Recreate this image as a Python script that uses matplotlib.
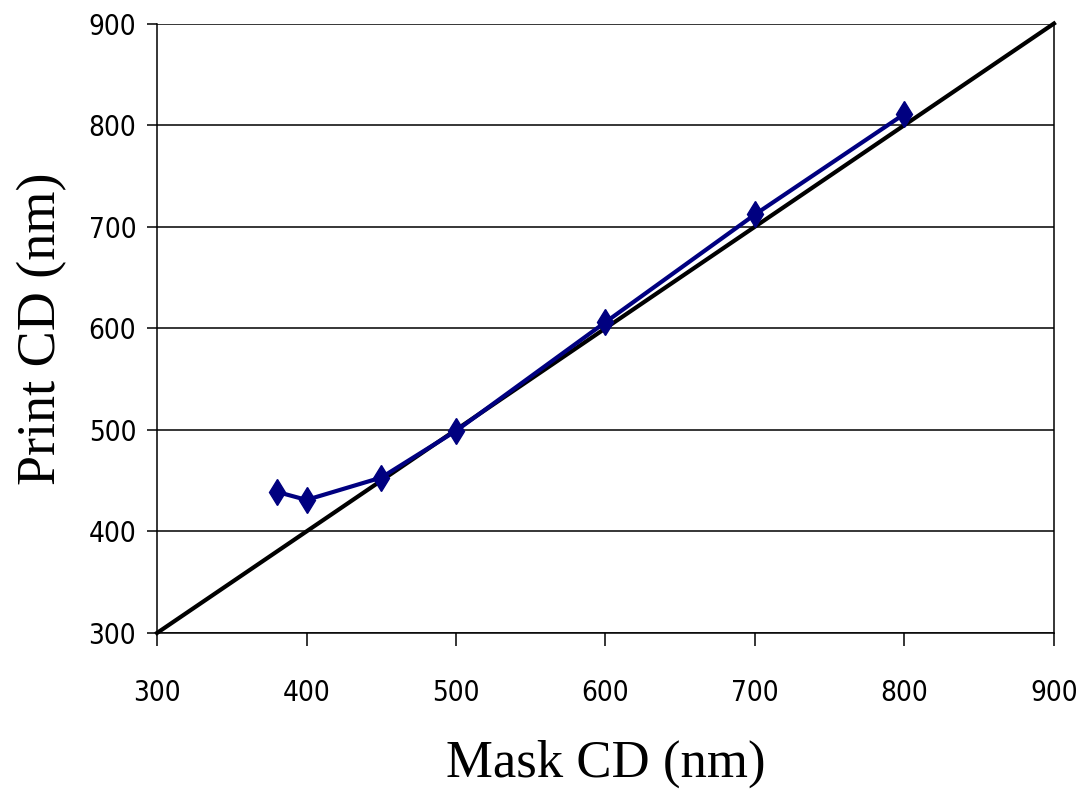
import matplotlib
matplotlib.use("Agg")
from matplotlib import pyplot as plt
import numpy as np

mask_cd = [380, 400, 450, 500, 600, 700, 800]
print_cd = [439, 431, 453, 499, 606, 712, 811]
ideal = [300, 900]
ticks = [300, 400, 500, 600, 700, 800, 900]

fig = plt.figure(figsize=(10.77, 7.95), dpi=100)
ax = fig.add_axes([0.1458, 0.2038, 0.8328, 0.7666])

# 45 degree reference line, then the measured curve on top
ax.plot(ideal, ideal, color='black', linewidth=3, clip_on=False, zorder=3)
ax.plot(mask_cd, print_cd, color='#000080', linewidth=3, marker='d',
        markersize=13, zorder=4, solid_joinstyle='round')

ax.set_xlim(300, 900)
ax.set_ylim(300, 900)
ax.set_xticks(ticks)
ax.set_yticks(ticks)
ax.grid(axis='y', color='black', linewidth=1.1)
ax.set_axisbelow(True)

ax.spines['top'].set_visible(False)
for side in ['left', 'right', 'bottom']:
	ax.spines[side].set_linewidth(1.1)

ax.tick_params(axis='x', direction='out', length=9, width=1.1, pad=24)
ax.tick_params(axis='y', direction='out', length=7, width=1.1, pad=8)
for lab in ax.get_xticklabels() + ax.get_yticklabels():
	lab.set_family(['DejaVu Sans'])
	lab.set_stretch('condensed')
	lab.set_fontsize(20)

ax.set_xlabel('Mask CD (nm)', family=['Liberation Serif'], fontsize=38, labelpad=24)
ax.set_ylabel('Print CD (nm)', family=['Liberation Serif'], fontsize=39, labelpad=15)

plt.savefig('out.png', dpi=100)
